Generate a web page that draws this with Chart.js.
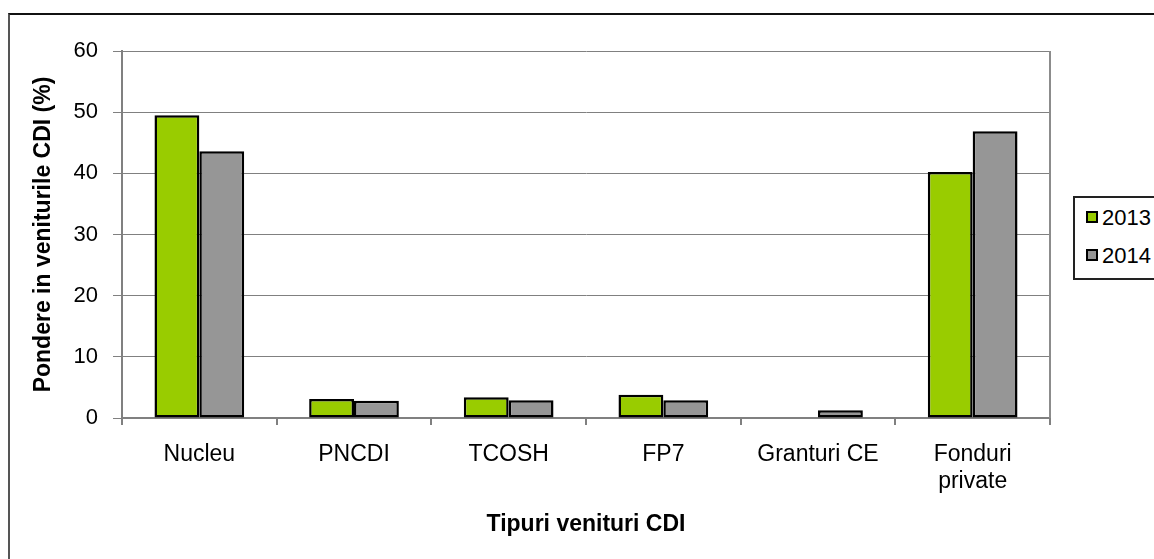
<!DOCTYPE html>
<html>
<head>
<meta charset="utf-8">
<script src="https://cdn.jsdelivr.net/npm/chart.js@4.4.0/dist/chart.umd.min.js"></script>
<style>
  html, body { margin: 0; padding: 0; background: #fff; }
  #wrap { position: relative; width: 1154px; height: 559px; overflow: hidden; font-family: "Liberation Sans", Arial, sans-serif; }
  #frame { position: absolute; left: 8px; top: 13px; width: 1200px; height: 600px; border-top: 2px solid #111; border-left: 2px solid #555; }
  #c { position: absolute; left: 0; top: 0; }
  #legend { position: absolute; left: 1073px; top: 196px; width: 120px; height: 84px; border: 2px solid #222; box-sizing: border-box; background: #fff; }
  .item { position: absolute; left: 11px; height: 24px; line-height: 24px; font-size: 22px; color: #000; white-space: nowrap; }
  .sw { display: inline-block; width: 8px; height: 8px; border: 2px solid #000; vertical-align: middle; margin-right: 4px; position: relative; top: -2px; }
</style>
</head>
<body>
<div id="wrap">
  <div id="frame"></div>
  <canvas id="c" width="1154" height="559"></canvas>
  <div id="legend"></div>
</div>
<script>
const categories = ["Nucleu", "PNCDI", "TCOSH", "FP7", "Granturi CE", ["Fonduri", "private"]];
const seriesNames = ["2013", "2014"];
const values2013 = [49.5, 3.1, 3.4, 3.8, 0, 40.2];
const values2014 = [43.6, 2.8, 2.9, 2.9, 1.25, 46.9];
const yTicks = [0, 10, 20, 30, 40, 50, 60];
const colors = ["#99CC00", "#969696"];

const plotBorder = {
  id: 'plotBorder',
  afterDraw(chart) {
    const {ctx, chartArea} = chart;
    ctx.save();
    ctx.strokeStyle = '#8c8c8c';
    ctx.lineWidth = 2;
    ctx.beginPath();
    ctx.moveTo(chartArea.right, chartArea.top);
    ctx.lineTo(chartArea.right, chartArea.bottom);
    ctx.stroke();
    ctx.restore();
  }
};

new Chart(document.getElementById('c'), {
  type: 'bar',
  data: {
    labels: categories,
    datasets: [
      { label: seriesNames[0], data: values2013, backgroundColor: colors[0], borderColor: '#000', borderWidth: 2.5, borderSkipped: false },
      { label: seriesNames[1], data: values2014, backgroundColor: colors[1], borderColor: '#000', borderWidth: 2.5, borderSkipped: false }
    ]
  },
  options: {
    responsive: false,
    animation: false,
    events: [],
    layout: { padding: { left: 10, right: 104, top: 51, bottom: 10 } },
    datasets: { bar: { categoryPercentage: 0.58, barPercentage: 1.0 } },
    plugins: { legend: { display: false }, tooltip: { enabled: false } },
    scales: {
      x: {
        afterFit: s => { s.height = 131; },
        grid: { offset: true, drawOnChartArea: false, drawTicks: true, tickLength: 7, color: '#808080', lineWidth: 2 },
        border: { display: true, color: '#808080', width: 2 },
        ticks: { color: '#000', padding: 16, maxRotation: 0, autoSkip: false, font: { family: '"Liberation Sans", Arial, sans-serif', size: 23, lineHeight: '27px' } },
        title: { display: true, text: 'Tipuri venituri CDI', color: '#000', padding: { top: 0, bottom: 11 }, font: { family: '"Liberation Sans", Arial, sans-serif', size: 23, weight: 'bold', lineHeight: 1.2 } }
      },
      y: {
        min: 0, max: 60,
        afterFit: s => { s.width = 112; },
        afterBuildTicks: s => { s.ticks = yTicks.map(v => ({ value: v })); },
        grid: { color: '#808080', lineWidth: 1, drawTicks: true, tickLength: 9 },
        border: { display: true, color: '#808080', width: 2 },
        ticks: { color: '#000', padding: 15, font: { family: '"Liberation Sans", Arial, sans-serif', size: 22 } },
        title: { display: true, text: 'Pondere in veniturile CDI (%)', color: '#000', padding: { top: 20, bottom: 0 }, font: { family: '"Liberation Sans", Arial, sans-serif', size: 23, weight: 'bold', lineHeight: 1.2 } }
      }
    }
  },
  plugins: [plotBorder]
});

const legend = document.getElementById('legend');
seriesNames.forEach((name, i) => {
  const d = document.createElement('div');
  d.className = 'item';
  d.style.top = (8 + i * 38) + 'px';
  d.innerHTML = '<span class="sw" style="background:' + colors[i] + '"></span>' + name;
  legend.appendChild(d);
});
</script>
</body>
</html>
